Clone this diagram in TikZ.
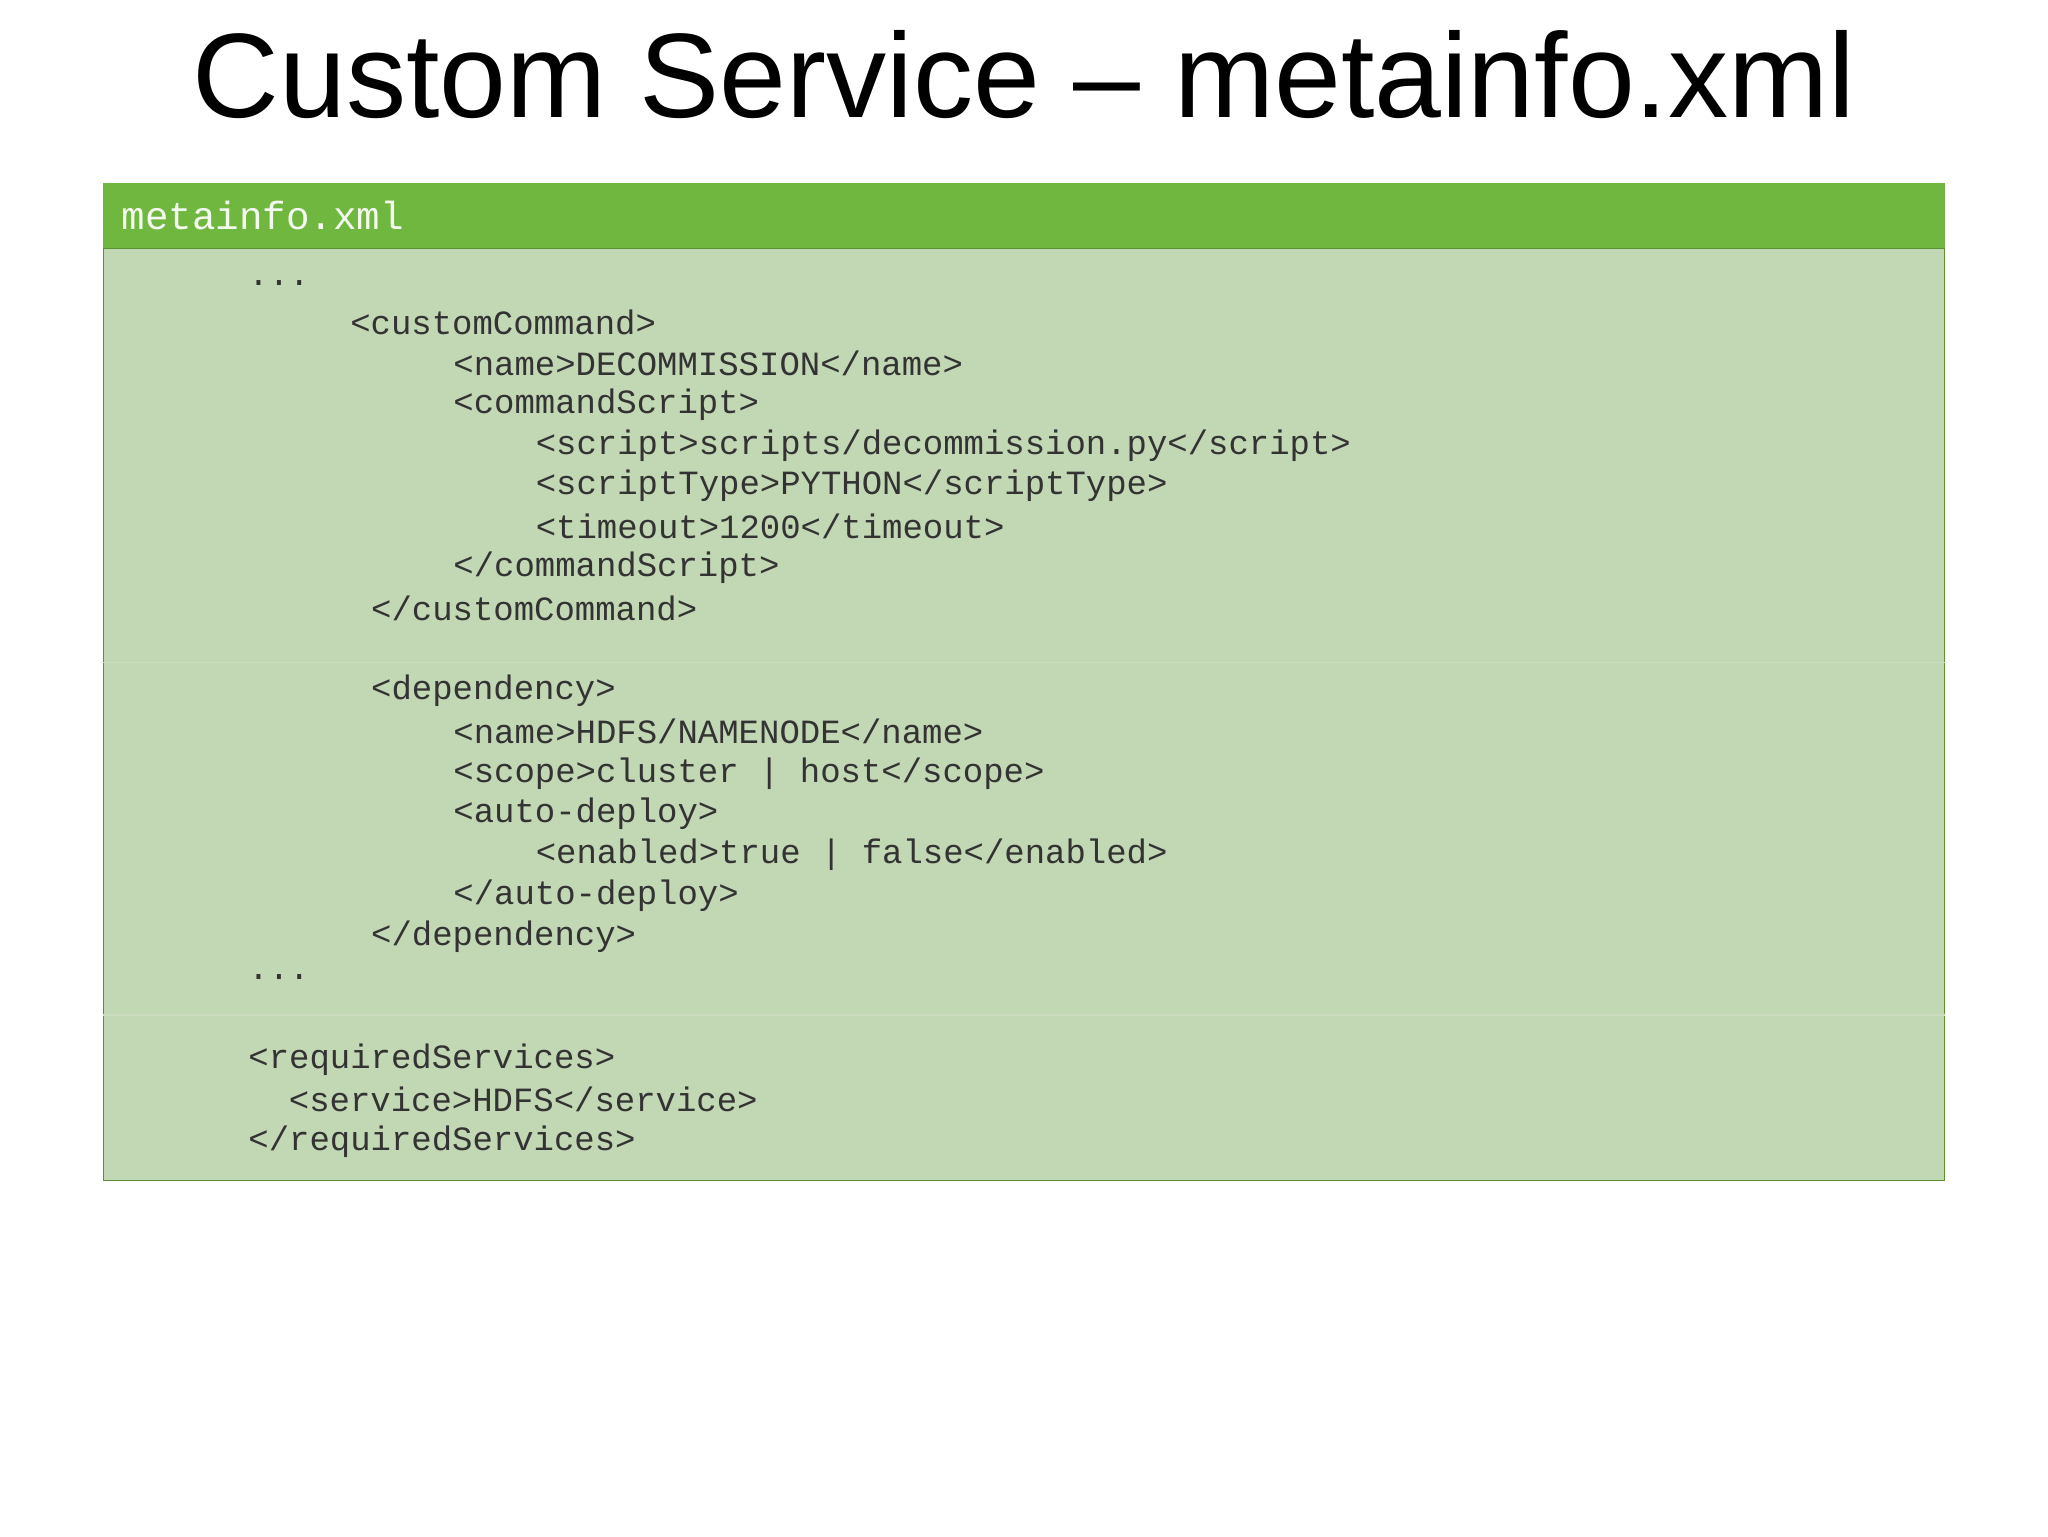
\documentclass[tikz,border=0pt]{standalone}
\usepackage{fontspec}
\setmainfont{Liberation Sans}
\setmonofont{Liberation Mono}
\definecolor{hdr}{HTML}{70B73F}
\definecolor{bodyc}{HTML}{C2D7B3}
\definecolor{codec}{HTML}{333333}
\begin{document}
\begin{tikzpicture}[x=1pt,y=-1pt,
  code/.style={anchor=west,inner sep=0pt,text=codec,font=\fontsize{26}{26}\selectfont\ttfamily}]
\useasboundingbox (0,0) rectangle (1568,1176);
\node (title) at (784,57) {\fontsize{92}{92}\selectfont Custom Service – metainfo.xml};
\fill[bodyc,draw=hdr!80!black,line width=1pt] (79,190) rectangle (1489,904);
\fill[hdr] (79,140) rectangle (1489,190);
\draw[bodyc!85!white,line width=1pt] (79,507) -- (1489,507) (79,777) -- (1489,777);
\node[anchor=west,inner sep=0pt,text=white!92!hdr,font=\fontsize{30}{30}\selectfont\ttfamily] (hd) at (93,165) {metainfo.xml};
\node[code] (l1) at (190,217) {...};
\node[code] (l2) at (268,247) {<customCommand>};
\node[code] (l3) at (347,278) {<name>DECOMMISSION</name>};
\node[code] (l4) at (347,310) {<commandScript>};
\node[code] (l5) at (410,341) {<script>scripts/decommission.py</script>};
\node[code] (l6) at (410,372) {<scriptType>PYTHON</scriptType>};
\node[code] (l7) at (410,403) {<timeout>1200</timeout>};
\node[code] (l8) at (347,435) {</commandScript>};
\node[code] (l9) at (284,466) {</customCommand>};
\node[code] (m1) at (284,529) {<dependency>};
\node[code] (m2) at (347,560) {<name>HDFS/NAMENODE</name>};
\node[code] (m3) at (347,592) {<scope>cluster | host</scope>};
\node[code] (m4) at (347,623) {<auto-deploy>};
\node[code] (m5) at (410,654) {<enabled>true | false</enabled>};
\node[code] (m6) at (347,686) {</auto-deploy>};
\node[code] (m7) at (284,717) {</dependency>};
\node[code] (m8) at (190,748) {...};
\node[code] (r1) at (190,811) {<requiredServices>};
\node[code] (r2) at (221,842) {<service>HDFS</service>};
\node[code] (r3) at (190,874) {</requiredServices>};
\end{tikzpicture}
\end{document}
